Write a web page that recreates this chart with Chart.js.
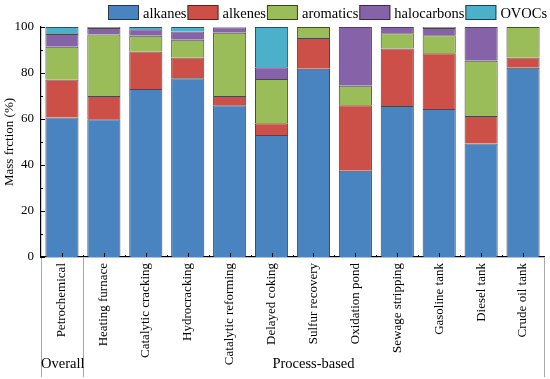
<!DOCTYPE html>
<html>
<head>
<meta charset="utf-8">
<script src="https://cdn.jsdelivr.net/npm/chart.js@4"></script>
<style>
  html, body { margin: 0; padding: 0; background: #fff; }
  #wrap { width: 550px; height: 379px; position: relative; }
</style>
</head>
<body>
<div id="wrap"><canvas id="chart"></canvas></div>
<script>
// categories (first one is the overall value, the rest are process units)
const categories = ['Petrochemical', 'Heating furnace', 'Catalytic cracking', 'Hydrocracking',
  'Catalytic reforming', 'Delayed coking', 'Sulfur recovery', 'Oxidation pond',
  'Sewage stripping', 'Gasoline tank', 'Diesel tank', 'Crude oil tank'];

// mass fraction (%)
const alkanes     = [60.6, 59.9, 73.0, 77.7, 66.0, 53.0, 81.9, 37.5, 65.7, 64.3, 49.4, 82.3];
const alkenes     = [16.6, 10.1, 16.3,  9.0,  4.0,  5.1, 13.3, 28.5, 25.0, 24.3, 11.9,  4.4];
const aromatics   = [14.2, 26.7,  6.9,  7.8, 27.5, 19.3,  4.8,  8.5,  6.6,  7.8, 24.0, 13.3];
const halocarbons = [ 5.6,  2.9,  2.8,  3.5,  2.3,  5.1,  0.0, 25.5,  2.7,  3.2, 14.7,  0.0];
const ovocs       = [ 3.0,  0.4,  1.0,  2.0,  0.2, 17.5,  0.0,  0.0,  0.0,  0.4,  0.0,  0.0];

const yTicks = [0, 20, 40, 60, 80, 100];
const groups = ['Overall', 'Process-based'];

const serif = "'Liberation Serif', 'Times New Roman', serif";
Chart.defaults.font.family = serif;
Chart.defaults.color = '#000';

function ds(label, data, color) {
  return {
    label: label,
    data: data,
    backgroundColor: color,
    borderColor: 'rgba(40,40,40,0.85)',
    borderWidth: 1,
    borderSkipped: 'start',
    barPercentage: 0.79,
    categoryPercentage: 1.0
  };
}

// legend, axis ticks, group separators and group names
const decorations = {
  id: 'decorations',
  afterDatasetsDraw(chart) {
    const ctx = chart.ctx;
    const x = chart.scales.x, y = chart.scales.y;
    const a = chart.chartArea;
    ctx.save();
    ctx.strokeStyle = '#000';
    ctx.lineWidth = 1;
    // y ticks, inward
    for (let v = 0; v <= 100; v += 10) {
      const py = Math.round(y.getPixelForValue(v)) + 0.5;
      const len = v % 20 === 0 ? 4 : 2;
      ctx.beginPath();
      ctx.moveTo(a.left, py);
      ctx.lineTo(a.left + len, py);
      ctx.stroke();
    }
    // x ticks, inward
    for (let i = 0; i < categories.length; i++) {
      const px = Math.round(x.getPixelForValue(i)) + 0.5;
      ctx.beginPath();
      ctx.moveTo(px, a.bottom);
      ctx.lineTo(px, a.bottom - 4);
      ctx.stroke();
      if (i < categories.length - 1) {
        const mx = Math.round((x.getPixelForValue(i) + x.getPixelForValue(i + 1)) / 2) + 0.5;
        ctx.beginPath();
        ctx.moveTo(mx, a.bottom);
        ctx.lineTo(mx, a.bottom - 2);
        ctx.stroke();
      }
    }
    // group separators
    const split = (x.getPixelForValue(0) + x.getPixelForValue(1)) / 2;
    ctx.strokeStyle = '#a8a8a8';
    [a.left, split, a.right].forEach(function (sx) {
      const p = Math.round(sx) + 0.5;
      ctx.beginPath();
      ctx.moveTo(p, a.bottom + 1);
      ctx.lineTo(p, 377);
      ctx.stroke();
    });
    ctx.fillStyle = '#000';
    ctx.font = '14.5px ' + serif;
    ctx.textBaseline = 'alphabetic';
    ctx.textAlign = 'left';
    ctx.fillText(groups[0], a.left, 368);
    ctx.textAlign = 'center';
    ctx.fillText(groups[1], (split + a.right) / 2, 368);

    // legend
    ctx.font = '14.5px ' + serif;
    ctx.textAlign = 'left';
    let lx = 108;
    chart.data.datasets.forEach(function (d) {
      ctx.fillStyle = d.backgroundColor;
      ctx.fillRect(lx, 5, 31, 15);
      ctx.strokeStyle = 'rgba(40,40,40,0.85)';
      ctx.strokeRect(lx + 0.5, 5.5, 30, 14);
      ctx.fillStyle = '#000';
      ctx.fillText(d.label, lx + 35, 17.5);
      lx += 35 + ctx.measureText(d.label).width + 1;
    });
    ctx.restore();
  }
};

new Chart(document.getElementById('chart'), {
  type: 'bar',
  data: {
    labels: categories,
    datasets: [
      ds('alkanes', alkanes, '#4a84c0'),
      ds('alkenes', alkenes, '#cc5048'),
      ds('aromatics', aromatics, '#9bbd59'),
      ds('halocarbons', halocarbons, '#8662a9'),
      ds('OVOCs', ovocs, '#4cb0cb')
    ]
  },
  options: {
    responsive: true,
    maintainAspectRatio: false,
    animation: false,
    layout: { padding: { top: 27, right: 6, left: 0, bottom: 0 } },
    plugins: {
      legend: { display: false },
      tooltip: { enabled: false }
    },
    scales: {
      x: {
        stacked: true,
        grid: { display: false, drawTicks: false },
        border: { display: true, color: '#000', width: 1.2 },
        ticks: {
          font: { size: 13 },
          minRotation: 90,
          maxRotation: 90,
          autoSkip: false,
          padding: 6
        },
        afterFit(scale) { scale.height = 122; }
      },
      y: {
        stacked: true,
        min: 0,
        max: 100,
        grid: { display: false, drawTicks: false },
        border: { display: true, color: '#000', width: 1.2 },
        afterBuildTicks(scale) { scale.ticks = yTicks.map(v => ({ value: v })); },
        ticks: { font: { size: 13 }, padding: 7 },
        title: {
          display: true,
          text: 'Mass frction (%)',
          font: { size: 13 },
          padding: { top: 2, bottom: 0 }
        },
        afterFit(scale) { scale.width = 41; }
      }
    }
  },
  plugins: [decorations]
});
</script>
</body>
</html>
